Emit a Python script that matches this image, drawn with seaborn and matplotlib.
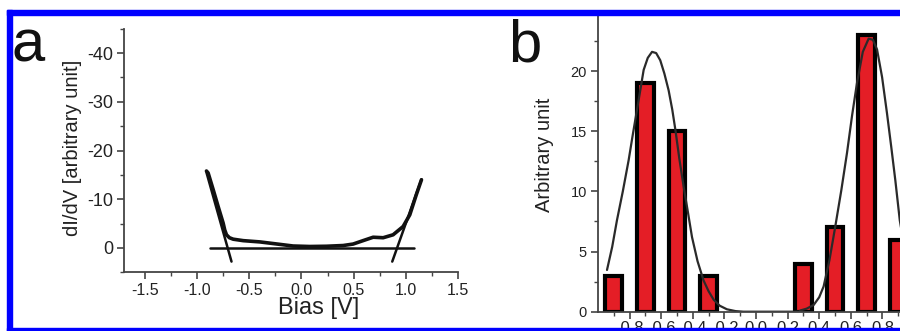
import matplotlib
matplotlib.use("Agg")
import matplotlib.pyplot as plt
from matplotlib.patches import Rectangle
from matplotlib.ticker import MultipleLocator, FixedLocator, FormatStrFormatter
import seaborn as sns
import pandas as pd

# ---------------- data ----------------
# panel a: measured dI/dV curve (negative values plotted upward, inverted axis)
bias_v = [-0.91, -0.894, -0.846, -0.798, -0.75, -0.735, -0.718, -0.69, -0.654, -0.558, -0.398,
          -0.239, -0.08, 0.08, 0.24, 0.40, 0.495, 0.59, 0.687, 0.783, 0.878,
          0.974, 1.038, 1.10, 1.15]
didv = [-15.8, -15.4, -12.0, -8.5, -5.1, -3.7, -2.7, -2.1, -1.8, -1.5, -1.24,
        -0.82, -0.4, -0.3, -0.35, -0.5, -0.8, -1.5, -2.2, -2.1, -2.7,
        -4.4, -6.8, -10.9, -14.0]
# linear fit lines (end points)
fit_left_x = [-0.91, -0.67]
fit_left_y = [-15.5, 2.8]
fit_right_x = [0.87, 1.15]
fit_right_y = [2.8, -14.1]
base_x = [-0.88, 1.08]
base_y = [0.0, 0.0]

# panel b: histogram of gap edges
bin_centers = [-0.9, -0.7, -0.5, -0.3, 0.3, 0.5, 0.7, 0.9]
counts = [3, 19, 15, 3, 4, 7, 23, 6]
# gaussian fit curves
fit1_x = [-0.943, -0.91, -0.88, -0.843, -0.806, -0.78, -0.753, -0.73, -0.711, -0.685,
          -0.658, -0.632, -0.606, -0.58, -0.553, -0.53, -0.51, -0.485, -0.458, -0.43,
          -0.405, -0.37, -0.332, -0.30, -0.268, -0.23, -0.184, -0.13, -0.08, 0.0, 0.1, 0.2, 0.28]
fit1_y = [3.47, 5.4, 7.6, 10.0, 12.6, 14.7, 16.8, 18.6, 20.1, 21.1,
          21.6, 21.5, 20.9, 19.8, 18.4, 16.8, 15.1, 12.7, 10.4, 8.2,
          6.2, 4.2, 2.6, 1.7, 1.0, 0.5, 0.2, 0.05, 0.0, 0.0, 0.0, 0.0, 0.0]
fit2_x = [0.28, 0.32, 0.365, 0.40, 0.428, 0.465, 0.502, 0.54, 0.576, 0.608, 0.639,
          0.676, 0.713, 0.74, 0.766, 0.798, 0.829, 0.856, 0.882, 0.91, 0.95, 1.0]
fit2_y = [0.1, 0.25, 0.56, 1.2, 2.1, 4.3, 7.1, 10.1, 13.2, 16.3, 19.0,
          21.6, 22.7, 22.6, 21.8, 19.5, 16.5, 13.7, 10.9, 7.6, 4.5, 2.2]

a_xticks = [-1.5, -1.0, -0.5, 0.0, 0.5, 1.0, 1.5]
a_yticks = [-40, -30, -20, -10, 0]
b_xticks = [-0.8, -0.6, -0.4, -0.2, 0.0, 0.2, 0.4, 0.6, 0.8]
b_yticks = [0, 5, 10, 15, 20]

# ---------------- style ----------------
sns.set_style("ticks")
plt.rcParams['font.family'] = ['Liberation Sans', 'DejaVu Sans']
plt.rcParams['axes.unicode_minus'] = False

W, H = 900, 331
fig = plt.figure(figsize=(9, 3.31), dpi=100)

def fx(px):
    return px / W

def fy(py):
    return 1 - py / H

spine_c = '#444444'

def style_axes(ax):
    for s in ['top', 'right']:
        ax.spines[s].set_visible(False)
    for s in ['left', 'bottom']:
        ax.spines[s].set_color(spine_c)
        ax.spines[s].set_linewidth(1.3)
    ax.tick_params(which='major', direction='out', length=5, width=1.2, color=spine_c)
    ax.tick_params(which='minor', direction='out', length=3, width=1.0, color=spine_c)
    ax.set_xlabel('')
    ax.set_ylabel('')
    ax.set_facecolor('white')

# ---------------- panel a ----------------
axa = fig.add_axes([fx(124), fy(272.3), 334 / W, 243.5 / H])
dfa = pd.DataFrame({'bias': bias_v, 'didv': didv})
sns.lineplot(data=dfa, x='bias', y='didv', ax=axa, color='#111111', lw=2.6, sort=False)
sns.lineplot(x=fit_left_x, y=fit_left_y, ax=axa, color='#111111', lw=1.8)
sns.lineplot(x=fit_right_x, y=fit_right_y, ax=axa, color='#111111', lw=1.8)
sns.lineplot(x=base_x, y=base_y, ax=axa, color='#111111', lw=1.8)
axa.set_xlim(-1.7, 1.5)
axa.set_ylim(5, -45)
axa.xaxis.set_major_locator(FixedLocator(a_xticks))
axa.xaxis.set_minor_locator(MultipleLocator(0.25))
axa.yaxis.set_major_locator(FixedLocator(a_yticks))
axa.yaxis.set_minor_locator(MultipleLocator(5))
axa.xaxis.set_major_formatter(FormatStrFormatter('%.1f'))
style_axes(axa)
axa.tick_params(axis='x', labelsize=11.5, pad=3, labelcolor='#222222')
axa.tick_params(axis='y', labelsize=13, pad=3, labelcolor='#222222')

fig.text(fx(319), fy(308), 'Bias [V]', fontsize=17, ha='center', va='center', color='#222222')
fig.text(fx(72), fy(147.5), 'dI/dV [arbitrary unit]', fontsize=14.5, rotation=90,
         ha='center', va='center', color='#222222')

# ---------------- panel b ----------------
axb = fig.add_axes([fx(598), fy(311.7), 316 / W, 300.75 / H])
dfb = pd.DataFrame({'center': bin_centers, 'count': counts})
sns.barplot(data=dfb, x='center', y='count', ax=axb, native_scale=True,
            color='#e41e26', saturation=1, edgecolor='black', linewidth=3,
            width=0.53, errorbar=None)
sns.lineplot(x=fit1_x, y=fit1_y, ax=axb, color='#2a2a2a', lw=1.6)
sns.lineplot(x=fit2_x, y=fit2_y, ax=axb, color='#2a2a2a', lw=1.6)
axb.set_xlim(-1.0, 1.0)
axb.set_ylim(0, 25)
axb.xaxis.set_major_locator(FixedLocator(b_xticks))
axb.xaxis.set_minor_locator(FixedLocator([-0.9, -0.7, -0.5, -0.3, -0.1, 0.1, 0.3, 0.5, 0.7, 0.9]))
axb.xaxis.set_major_formatter(FormatStrFormatter('%.1f'))
axb.yaxis.set_major_locator(FixedLocator(b_yticks))
axb.yaxis.set_minor_locator(MultipleLocator(2.5))
style_axes(axb)
axb.tick_params(axis='x', labelsize=12, pad=1.5, labelcolor='#222222')
axb.tick_params(axis='y', labelsize=10.5, pad=3, labelcolor='#222222')
fig.text(fx(545), fy(155), 'Arbitrary unit', fontsize=14.5, rotation=90,
         ha='center', va='center', color='#222222')

# ---------------- panel letters ----------------
fig.text(fx(12), fy(62), 'a', fontsize=43, ha='left', va='baseline', color='#111111')
fig.text(fx(508), fy(62), 'b', fontsize=43, ha='left', va='baseline', color='#111111')

# ---------------- blue frame ----------------
blue = '#0000ff'
fig.patches.append(Rectangle((fx(7), fy(15)), 1 - fx(7), 5 / H, transform=fig.transFigure,
                             color=blue, zorder=10))
fig.patches.append(Rectangle((fx(7), 0), 5 / W, fy(10), transform=fig.transFigure,
                             color=blue, zorder=10))
fig.patches.append(Rectangle((fx(7), 0), 1 - fx(7), 3 / H, transform=fig.transFigure,
                             color=blue, zorder=10))

fig.savefig('out.png', dpi=100, facecolor='white')
